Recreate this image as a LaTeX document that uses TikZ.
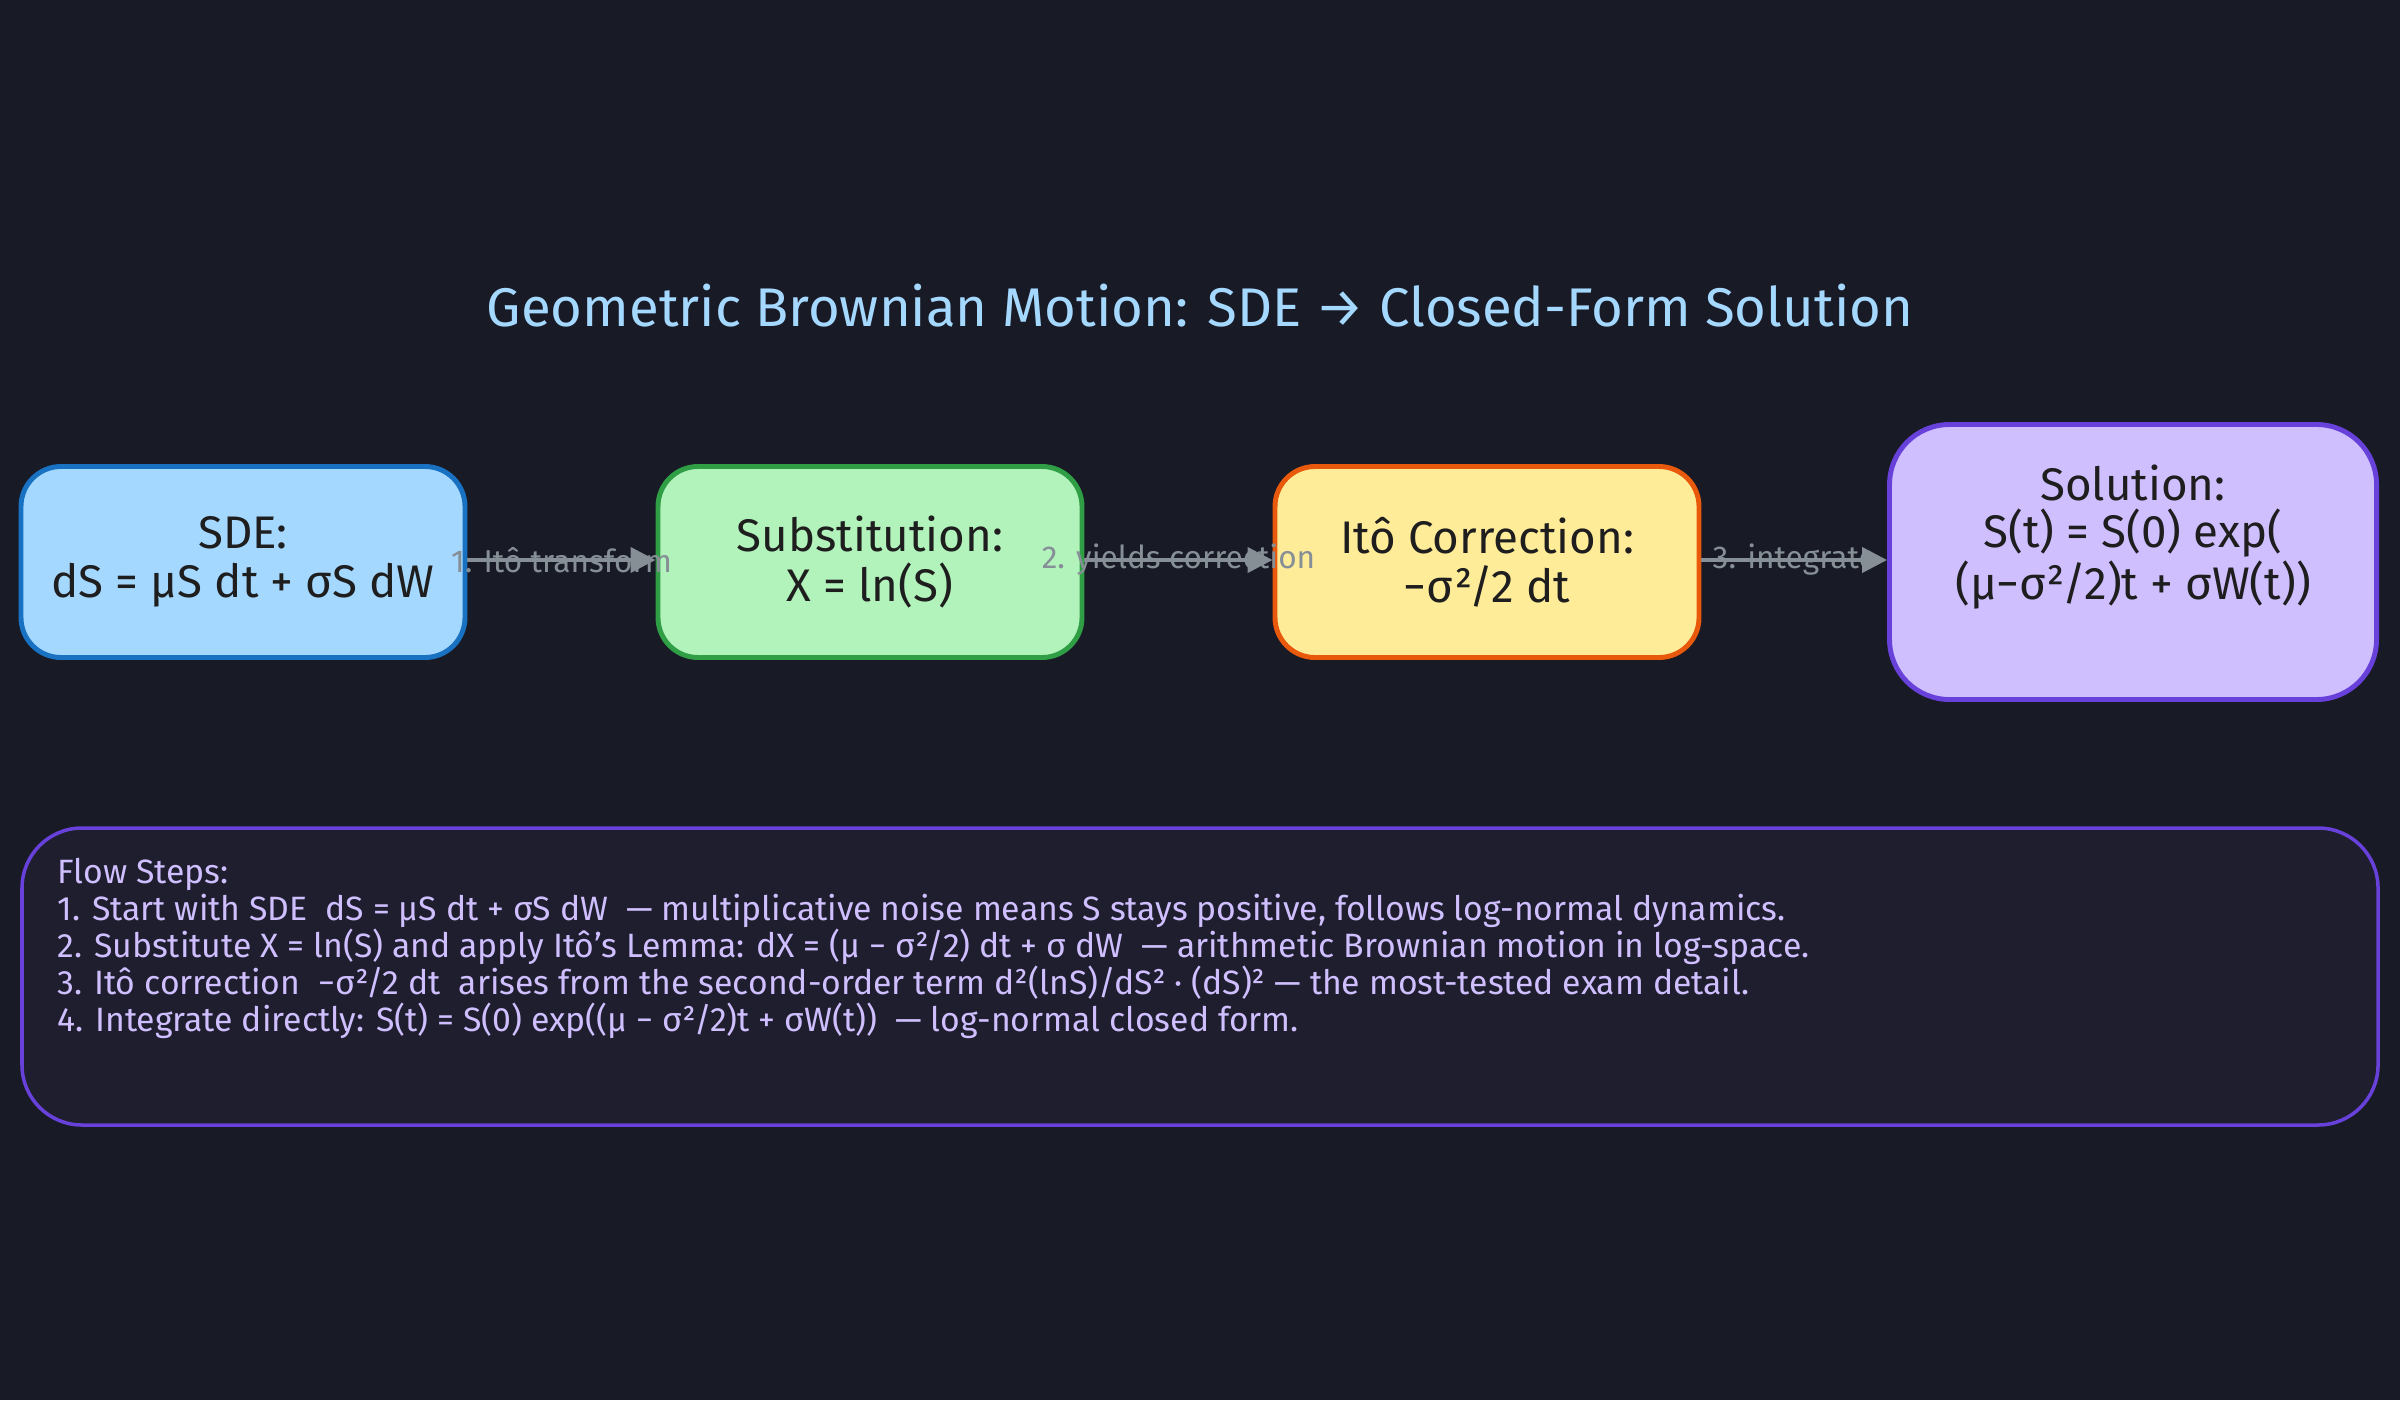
\documentclass[tikz,border=0pt]{standalone}
\usepackage{fontspec}
\setmainfont{Fira Sans}
\usetikzlibrary{positioning, arrows.meta}
\definecolor{gbBack}{HTML}{181A26}
\definecolor{gbPanel}{HTML}{1E1E2E}
\definecolor{gbTitle}{HTML}{A5D8FF}
\definecolor{gbGray}{HTML}{868E96}
\definecolor{gbInk}{HTML}{1E1E1E}
\definecolor{gbBlue}{HTML}{A5D8FF}
\definecolor{gbBlueLine}{HTML}{1971C2}
\definecolor{gbGreen}{HTML}{B2F2BB}
\definecolor{gbGreenLine}{HTML}{2F9E44}
\definecolor{gbYellow}{HTML}{FFEC99}
\definecolor{gbYellowLine}{HTML}{E8590C}
\definecolor{gbViolet}{HTML}{D0BFFF}
\definecolor{gbVioletLine}{HTML}{6741D9}
\tikzset{
    base/.style={
        font=\fontsize{13}{14}\selectfont,
        align=center,
        text=gbInk
    },
    stage/.style={
        base,
        rectangle,
        rounded corners=4mm,
        line width=1.4pt,
        minimum width=4.44cm,
        minimum height=1.91cm
    },
    flow/.style={
        -{Triangle[length=2.5mm, width=2.5mm]},
        line width=1.2pt,
        color=gbGray
    },
    label/.style={
        font=\fontsize{9}{11}\selectfont,
        text=gbGray,
        inner sep=1pt
    }
}
\begin{document}
\begin{tikzpicture}
    % Background
    \fill[gbBack] (0,0) rectangle (24,-14);
    \useasboundingbox (0,0) rectangle (24,-14);

    % Title
    \node[font=\fontsize{15.5}{18}\selectfont, text=gbTitle] (title) at (12,-3.06)
        {Geometric Brownian Motion: SDE → Closed-Form Solution};

    % Stages
    \node[stage, fill=gbBlue, draw=gbBlueLine] (sde) at (2.43,-5.62)
        {SDE:\\dS = μS dt + σS dW};
    \node[stage, fill=gbGreen, draw=gbGreenLine, minimum width=4.24cm] (subst) at (8.70,-5.62)
        {Substitution:\\X = ln(S)};
    \node[stage, fill=gbYellow, draw=gbYellowLine, minimum width=4.24cm] (corr) at (14.87,-5.62)
        {Itô Correction:\\−σ²/2 dt};
    \node[stage, fill=gbViolet, draw=gbVioletLine, minimum width=4.87cm, minimum height=2.75cm,
        rounded corners=6mm, text depth=0.6cm, font=\fontsize{13}{13.3}\selectfont] (sol) at (21.33,-5.62)
        {Solution:\\S(t) = S(0) exp(\\(μ−σ²/2)t + σW(t))};

    % Connectors
    \draw[flow] (sde.east |- 0,-5.6) -- node[label] {1. Itô transform} (subst.west |- 0,-5.6);
    \draw[flow] (subst.east |- 0,-5.6) -- node[label] {2. yields correction} (corr.west |- 0,-5.6);
    \draw[flow] (corr.east |- 0,-5.6) -- node[label] {3. integrate} (sol.west |- 0,-5.6);

    % Flow steps
    \node[draw=gbVioletLine, fill=gbPanel, line width=1pt, rounded corners=6mm,
        minimum width=23.56cm, minimum height=2.97cm] (steps) at (12,-9.765) {};
    \node[anchor=north west, align=left, text=gbViolet, font=\fontsize{9.6}{10.5}\selectfont]
        (stepstext) at (0.45,-8.46)
        {Flow Steps:\\
        1. Start with SDE \ dS = μS dt + σS dW \ — multiplicative noise means S stays positive, follows log-normal dynamics.\\
        2. Substitute X = ln(S) and apply Itô's Lemma: dX = (μ − σ²/2) dt + σ dW \ — arithmetic Brownian motion in log-space.\\
        3. Itô correction \ −σ²/2 dt \ arises from the second-order term d²(lnS)/dS² · (dS)² — the most-tested exam detail.\\
        4. Integrate directly: S(t) = S(0) exp((μ − σ²/2)t + σW(t)) \ — log-normal closed form.};
\end{tikzpicture}
\end{document}
